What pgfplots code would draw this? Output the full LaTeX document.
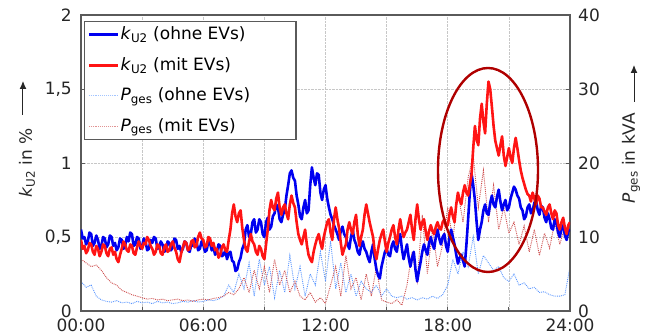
\documentclass[border=0pt]{standalone}
\usepackage{pgfplots}
\pgfplotsset{compat=1.18}
\usetikzlibrary{arrows.meta}
\usepackage{fontspec}
\setmainfont{DejaVu Sans}
\definecolor{kblue}{RGB}{0,0,240}
\definecolor{kred}{RGB}{255,20,20}
\definecolor{pblue}{RGB}{90,150,255}
\definecolor{pred}{RGB}{205,75,75}
\definecolor{ell}{RGB}{175,0,0}
\definecolor{frame}{RGB}{90,90,90}
\begin{document}
\fontsize{17}{20}\selectfont
\begin{tikzpicture}
\pgfplotsset{
 base/.style={
  width=489pt, height=296pt, scale only axis,
  at={(0pt,0pt)}, anchor=south west,
  xmin=0, xmax=1440, xtick={0,180,...,1440},
  /pgf/number format/assume math mode=true,
  /pgf/number format/use comma,
  tick label style={font=\fontsize{17}{20}\selectfont, text=black!85, inner sep=1pt},
  xticklabel style={yshift=-7pt},
  axis line style={frame, line width=1.2pt},
  tick style={frame, line width=0.8pt},
  major tick length=4pt,
  tick align=inside,
 }
}
\begin{axis}[base,
  ymin=0, ymax=40, ytick={0,10,...,40},
  ytick pos=right, yticklabel pos=right,
  yticklabel style={xshift=7pt},
  xtick pos=bottom,
  xticklabels={00:00,,06:00,,12:00,,18:00,,24:00},
  grid=major,
  grid style={densely dotted, black!22, line width=0.6pt},
]
\addplot[draw=pblue, densely dotted, line width=0.9pt] coordinates {
(0,4.0)(15,3.2)(30,3.5)(45,2.0)(60,1.5)(75,1.3)(90,1.2)(105,1.4)(120,1.1)(135,1.2)(150,1.0)(165,1.3)(180,1.1)(195,1.2)(210,1.0)(225,1.3)(240,1.1)(255,1.2)(270,1.0)(285,1.1)(300,1.3)(315,1.2)(330,1.4)(345,1.2)(360,1.3)(375,1.5)(390,1.4)(405,1.6)(420,2.0)(435,3.5)(450,2.5)(465,5.0)(480,3.0)(495,6.5)(510,2.0)(525,7.0)(540,3.5)(555,6.0)(570,1.8)(585,5.5)(600,2.5)(615,7.5)(630,3.0)(645,6.0)(660,2.0)(675,5.0)(690,3.5)(705,8.0)(720,4.0)(735,9.5)(750,3.0)(765,6.5)(780,2.5)(795,5.0)(810,2.0)(825,4.0)(840,3.0)(855,2.5)(870,3.5)(885,2.0)(900,3.0)(915,2.0)(930,1.8)(945,2.0)(960,1.6)(975,1.8)(990,1.5)(1005,1.8)(1020,1.6)(1035,2.0)(1050,1.7)(1065,2.2)(1080,3.5)(1095,7.0)(1110,5.0)(1125,8.0)(1140,6.0)(1155,10.0)(1170,5.0)(1185,7.5)(1200,6.5)(1215,5.5)(1230,6.0)(1245,4.5)(1260,4.0)(1275,5.0)(1290,3.5)(1305,3.8)(1320,3.0)(1335,3.2)(1350,2.5)(1365,2.6)(1380,2.2)(1395,2.0)(1410,2.0)(1425,2.2)(1440,6.0)
};
\addplot[draw=pred, densely dotted, line width=0.9pt] coordinates {
(0,7.0)(15,6.5)(30,6.0)(45,6.2)(60,5.5)(75,4.5)(90,3.8)(105,3.5)(120,2.8)(135,2.5)(150,2.2)(165,2.0)(180,1.8)(195,1.6)(210,1.7)(225,1.5)(240,1.6)(255,1.4)(270,1.5)(285,1.6)(300,1.4)(315,1.5)(330,1.3)(345,1.5)(360,1.6)(375,1.5)(390,1.7)(405,1.8)(420,2.0)(435,2.5)(450,2.2)(465,3.0)(480,4.5)(495,2.5)(510,5.5)(525,3.0)(540,6.0)(555,2.5)(570,7.0)(585,3.5)(600,5.5)(615,2.5)(630,4.0)(645,2.0)(660,1.5)(675,2.5)(690,1.2)(705,1.8)(720,1.0)(735,3.5)(750,6.0)(765,2.0)(780,7.5)(795,3.0)(810,4.5)(825,1.5)(840,5.0)(855,2.0)(870,6.0)(885,1.5)(900,1.2)(915,1.0)(930,1.5)(945,0.8)(960,3.5)(975,8.0)(990,4.0)(1005,13.0)(1020,5.0)(1035,11.0)(1050,6.0)(1065,9.0)(1080,14.0)(1095,9.5)(1110,16.0)(1125,12.0)(1140,18.0)(1155,21.0)(1170,14.0)(1185,19.0)(1200,12.0)(1215,17.0)(1230,11.0)(1245,14.0)(1260,10.5)(1275,12.0)(1290,9.0)(1305,11.5)(1320,8.0)(1335,11.0)(1350,7.5)(1365,10.5)(1380,8.5)(1395,12.0)(1410,9.0)(1425,11.5)(1440,10.0)
};
\end{axis}
\begin{axis}[base,
  ymin=0, ymax=2, ytick={0,0.5,...,2},
  ytick pos=left, yticklabel pos=left,
  yticklabel style={xshift=-8pt},
  xtick pos=bottom, xticklabels={},
  legend cell align=left,
  legend style={at={(0.006,0.98)}, anchor=north west,
    draw=frame, line width=1.2pt, fill=white,
    font=\fontsize{17}{20}\selectfont,
    inner xsep=3pt, inner ysep=4pt,
    row sep=12pt,
    nodes={inner sep=1.5pt}},
  legend image code/.code={\draw[#1] (0pt,0pt) -- (29pt,0pt);},
]
\addplot[draw=kblue, line width=2.6pt, line join=round] coordinates {
(0,0.55)(5,0.49)(10,0.50)(15,0.45)(20,0.47)(25,0.53)(30,0.52)(35,0.44)(40,0.46)(45,0.51)(50,0.48)(55,0.42)(60,0.44)(65,0.50)(70,0.49)(75,0.43)(80,0.45)(85,0.51)(90,0.50)(95,0.44)(100,0.46)(105,0.41)(110,0.43)(115,0.49)(120,0.48)(125,0.42)(130,0.44)(135,0.50)(140,0.47)(145,0.53)(150,0.52)(155,0.44)(160,0.45)(165,0.50)(170,0.49)(175,0.42)(180,0.44)(185,0.49)(190,0.47)(195,0.41)(200,0.42)(205,0.48)(210,0.46)(215,0.50)(220,0.49)(225,0.42)(230,0.43)(235,0.47)(240,0.45)(245,0.40)(250,0.41)(255,0.47)(260,0.46)(265,0.41)(270,0.43)(275,0.49)(280,0.48)(285,0.42)(290,0.44)(295,0.40)(300,0.42)(305,0.47)(310,0.46)(315,0.41)(320,0.40)(325,0.45)(330,0.44)(335,0.49)(340,0.47)(345,0.41)(350,0.42)(355,0.47)(360,0.45)(365,0.40)(370,0.41)(375,0.47)(380,0.46)(385,0.41)(390,0.43)(395,0.38)(400,0.40)(405,0.45)(410,0.44)(415,0.37)(420,0.38)(425,0.41)(430,0.35)(435,0.39)(440,0.40)(445,0.34)(450,0.33)(455,0.27)(460,0.28)(465,0.33)(470,0.36)(475,0.42)(480,0.45)(485,0.55)(490,0.58)(495,0.50)(500,0.52)(505,0.60)(510,0.62)(515,0.53)(520,0.55)(525,0.62)(530,0.60)(535,0.52)(540,0.50)(545,0.60)(550,0.63)(555,0.55)(560,0.57)(565,0.64)(570,0.66)(575,0.72)(580,0.70)(585,0.62)(590,0.60)(595,0.65)(600,0.68)(605,0.78)(610,0.85)(615,0.93)(620,0.95)(625,0.90)(630,0.88)(635,0.78)(640,0.72)(645,0.64)(650,0.62)(655,0.70)(660,0.75)(665,0.66)(670,0.68)(675,0.85)(680,0.97)(685,0.90)(690,0.85)(695,0.93)(700,0.92)(705,0.80)(710,0.75)(715,0.82)(720,0.85)(725,0.76)(730,0.70)(735,0.65)(740,0.62)(745,0.58)(750,0.55)(755,0.52)(760,0.48)(765,0.54)(770,0.57)(775,0.52)(780,0.50)(785,0.45)(790,0.42)(795,0.50)(800,0.55)(805,0.48)(810,0.45)(815,0.40)(820,0.38)(825,0.44)(830,0.47)(835,0.42)(840,0.40)(845,0.36)(850,0.33)(855,0.40)(860,0.45)(865,0.35)(870,0.28)(875,0.24)(880,0.22)(885,0.30)(890,0.35)(895,0.40)(900,0.42)(905,0.38)(910,0.37)(915,0.44)(920,0.47)(925,0.42)(930,0.40)(935,0.48)(940,0.52)(945,0.42)(950,0.35)(955,0.40)(960,0.45)(965,0.36)(970,0.30)(975,0.36)(980,0.40)(985,0.28)(990,0.20)(995,0.27)(1000,0.33)(1005,0.40)(1010,0.45)(1015,0.41)(1020,0.38)(1025,0.46)(1030,0.50)(1035,0.45)(1040,0.42)(1045,0.50)(1050,0.55)(1055,0.49)(1060,0.45)(1065,0.50)(1070,0.52)(1075,0.44)(1080,0.40)(1085,0.50)(1090,0.55)(1095,0.50)(1100,0.45)(1105,0.38)(1110,0.32)(1115,0.36)(1120,0.38)(1125,0.34)(1130,0.30)(1135,0.45)(1140,0.62)(1145,0.80)(1150,0.93)(1155,0.85)(1160,0.75)(1165,0.60)(1170,0.48)(1175,0.55)(1180,0.60)(1185,0.68)(1190,0.72)(1195,0.66)(1200,0.65)(1205,0.73)(1210,0.78)(1215,0.72)(1220,0.70)(1225,0.77)(1230,0.82)(1235,0.74)(1240,0.68)(1245,0.72)(1250,0.75)(1255,0.68)(1260,0.70)(1265,0.76)(1270,0.80)(1275,0.84)(1280,0.82)(1285,0.78)(1290,0.76)(1295,0.70)(1300,0.68)(1305,0.62)(1310,0.64)(1315,0.70)(1320,0.72)(1325,0.66)(1330,0.68)(1335,0.73)(1340,0.75)(1345,0.68)(1350,0.65)(1355,0.71)(1360,0.70)(1365,0.63)(1370,0.60)(1375,0.66)(1380,0.62)(1385,0.56)(1390,0.55)(1395,0.62)(1400,0.60)(1405,0.53)(1410,0.50)(1415,0.56)(1420,0.58)(1425,0.51)(1430,0.48)(1435,0.54)(1440,0.55)
};
\addlegendentry{\textit{k}\textsubscript{U2} (ohne EVs)\hspace*{46pt}}
\addplot[draw=kred, line width=2.6pt, line join=round] coordinates {
(0,0.48)(5,0.42)(10,0.44)(15,0.39)(20,0.41)(25,0.46)(30,0.45)(35,0.40)(40,0.38)(45,0.44)(50,0.42)(55,0.37)(60,0.40)(65,0.45)(70,0.44)(75,0.39)(80,0.37)(85,0.42)(90,0.43)(95,0.38)(100,0.40)(105,0.35)(110,0.33)(115,0.38)(120,0.42)(125,0.47)(130,0.45)(135,0.41)(140,0.40)(145,0.45)(150,0.44)(155,0.39)(160,0.38)(165,0.43)(170,0.47)(175,0.44)(180,0.42)(185,0.46)(190,0.45)(195,0.50)(200,0.48)(205,0.44)(210,0.42)(215,0.38)(220,0.40)(225,0.45)(230,0.44)(235,0.39)(240,0.38)(245,0.43)(250,0.45)(255,0.40)(260,0.41)(265,0.45)(270,0.47)(275,0.43)(280,0.40)(285,0.35)(290,0.33)(295,0.39)(300,0.43)(305,0.47)(310,0.46)(315,0.41)(320,0.42)(325,0.47)(330,0.48)(335,0.43)(340,0.44)(345,0.50)(350,0.53)(355,0.49)(360,0.48)(365,0.43)(370,0.44)(375,0.50)(380,0.49)(385,0.44)(390,0.46)(395,0.41)(400,0.42)(405,0.36)(410,0.38)(415,0.43)(420,0.45)(425,0.41)(430,0.40)(435,0.48)(440,0.55)(445,0.66)(450,0.72)(455,0.64)(460,0.60)(465,0.66)(470,0.68)(475,0.56)(480,0.48)(485,0.42)(490,0.40)(495,0.47)(500,0.52)(505,0.47)(510,0.45)(515,0.40)(520,0.38)(525,0.44)(530,0.42)(535,0.37)(540,0.35)(545,0.45)(550,0.55)(555,0.68)(560,0.75)(565,0.70)(570,0.68)(575,0.76)(580,0.80)(585,0.70)(590,0.65)(595,0.70)(600,0.72)(605,0.66)(610,0.62)(615,0.72)(620,0.78)(625,0.73)(630,0.70)(635,0.60)(640,0.52)(645,0.48)(650,0.45)(655,0.50)(660,0.55)(665,0.45)(670,0.38)(675,0.35)(680,0.33)(685,0.40)(690,0.45)(695,0.49)(700,0.52)(705,0.46)(710,0.42)(715,0.50)(720,0.55)(725,0.60)(730,0.62)(735,0.53)(740,0.48)(745,0.62)(750,0.70)(755,0.62)(760,0.56)(765,0.46)(770,0.38)(775,0.42)(780,0.45)(785,0.55)(790,0.60)(795,0.55)(800,0.52)(805,0.60)(810,0.65)(815,0.52)(820,0.44)(825,0.50)(830,0.55)(835,0.65)(840,0.72)(845,0.66)(850,0.60)(855,0.55)(860,0.50)(865,0.40)(870,0.35)(875,0.42)(880,0.48)(885,0.52)(890,0.55)(895,0.47)(900,0.40)(905,0.46)(910,0.50)(915,0.55)(920,0.58)(925,0.50)(930,0.45)(935,0.55)(940,0.62)(945,0.55)(950,0.50)(955,0.53)(960,0.55)(965,0.60)(970,0.65)(975,0.55)(980,0.48)(985,0.62)(990,0.72)(995,0.62)(1000,0.55)(1005,0.60)(1010,0.62)(1015,0.54)(1020,0.48)(1025,0.54)(1030,0.58)(1035,0.54)(1040,0.52)(1045,0.57)(1050,0.60)(1055,0.56)(1060,0.55)(1065,0.60)(1070,0.62)(1075,0.57)(1080,0.58)(1085,0.65)(1090,0.70)(1095,0.64)(1100,0.60)(1105,0.72)(1110,0.80)(1115,0.75)(1120,0.72)(1125,0.80)(1130,0.85)(1135,0.80)(1140,0.78)(1145,0.85)(1150,0.92)(1155,1.10)(1160,1.25)(1165,1.16)(1170,1.12)(1175,1.30)(1180,1.40)(1185,1.28)(1190,1.20)(1195,1.40)(1200,1.55)(1205,1.50)(1210,1.38)(1215,1.25)(1220,1.15)(1225,1.10)(1230,1.05)(1235,1.12)(1240,1.18)(1245,1.05)(1250,0.98)(1255,1.04)(1260,1.10)(1265,1.04)(1270,1.00)(1275,1.10)(1280,1.17)(1285,1.10)(1290,1.02)(1295,0.95)(1300,0.90)(1305,0.86)(1310,0.82)(1315,0.79)(1320,0.78)(1325,0.74)(1330,0.80)(1335,0.76)(1340,0.72)(1345,0.78)(1350,0.76)(1355,0.70)(1360,0.70)(1365,0.67)(1370,0.65)(1375,0.70)(1380,0.72)(1385,0.66)(1390,0.62)(1395,0.68)(1400,0.66)(1405,0.58)(1410,0.55)(1415,0.60)(1420,0.63)(1425,0.56)(1430,0.52)(1435,0.58)(1440,0.60)
};
\addlegendentry{\textit{k}\textsubscript{U2} (mit EVs)}
\addlegendimage{legend image code/.code={\draw[pblue!55, densely dotted, line width=0.9pt] (0pt,0pt) -- (29pt,0pt);}}
\addlegendentry{\textit{P}\textsubscript{ges} (ohne EVs)}
\addlegendimage{legend image code/.code={\draw[pred!60, densely dotted, line width=0.9pt] (0pt,0pt) -- (29pt,0pt);}}
\addlegendentry{\textit{P}\textsubscript{ges} (mit EVs)\rule[-8pt]{0pt}{8pt}}
\end{axis}
\draw[ell, line width=2.4pt] (407pt,141pt) ellipse [x radius=50pt, y radius=102pt];
\node[rotate=90, text=black!85] at (-54pt,148pt) {\textit{k}\textsubscript{U2} in \%};
\draw[black!85, line width=1pt, -{Latex[length=8pt,width=7pt]}] (-58pt,196pt) -- (-58pt,230pt);
\node[rotate=90, text=black!85] at (550pt,153pt) {\textit{P}\textsubscript{ges} in kVA};
\draw[black!85, line width=1pt, -{Latex[length=8pt,width=7pt]}] (553pt,209pt) -- (553pt,246pt);
\pgfresetboundingbox
\path (-81pt,-25pt) rectangle (568pt,311pt);
\end{tikzpicture}
\end{document}
